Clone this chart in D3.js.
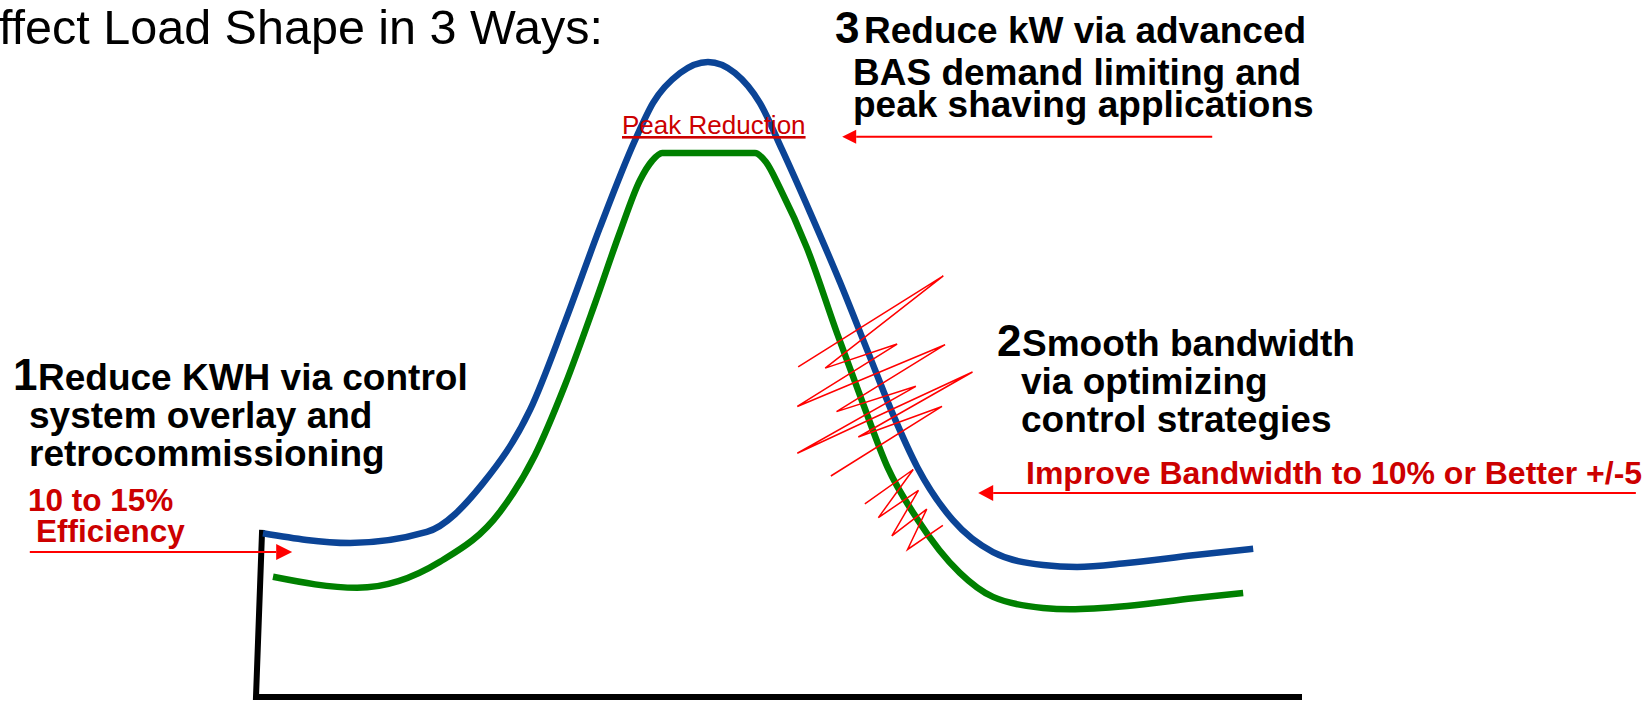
<!DOCTYPE html>
<html>
<head>
<meta charset="utf-8">
<script src="https://cdn.jsdelivr.net/npm/d3@7"></script>
<style>
  body { margin: 0; background: #fff; overflow: hidden; }
  text { font-family: "Liberation Sans", Arial, sans-serif; }
</style>
</head>
<body>
<div id="chart"></div>
<script>
// load profile: hour of day vs load (% of full scale)
var baseHours = [0.16, 2.16, 3.92, 5.21, 6.29, 7.09, 7.89, 8.70, 9.11, 9.73, 10.37, 10.99, 11.56, 12.07, 12.71, 13.40, 14.04, 14.62, 15.17, 15.99, 16.91, 18.06, 18.84, 19.99, 21.50, 22.88];
var baseLoad = [25.2, 23.7, 25.4, 32.9, 44.2, 57.7, 72.2, 85.7, 91.4, 96.0, 97.7, 96.0, 91.4, 84.2, 74.6, 63.8, 53.1, 43.4, 35.4, 27.2, 22.3, 20.3, 20.0, 20.6, 21.8, 22.8];

var managedHours = [0.39, 2.32, 4.22, 5.60, 6.40, 7.09, 7.78, 8.35, 8.81, 9.09, 9.32, 11.45, 11.70, 12.02, 12.64, 13.33, 13.93, 14.50, 15.17, 16.15, 16.91, 18.06, 18.68, 19.99, 21.50, 22.65];
var managedLoad = [18.5, 16.8, 20.8, 28.5, 37.2, 48.0, 60.6, 71.5, 79.5, 82.5, 83.7, 83.7, 82.3, 78.3, 69.1, 56.0, 45.1, 35.2, 27.4, 19.1, 15.4, 13.7, 13.5, 14.0, 15.2, 16.0];

// bandwidth scribbles
var swingHoursA = [12.44, 15.77, 13.06, 14.71, 12.42, 15.81, 13.32, 15.14, 12.42, 16.44, 13.82, 15.74, 13.19];
var swingLoadA = [50.8, 64.8, 50.6, 54.3, 44.7, 54.2, 43.9, 47.8, 37.5, 50.0, 40.0, 44.7, 34.0];
var swingHoursB = [13.97, 15.08, 14.28, 15.20, 14.59, 15.39, 14.95, 15.76];
var swingLoadB = [29.7, 35.0, 27.6, 31.8, 24.8, 28.9, 22.7, 26.4];

// axis frame
var axisHours = [0.14, 0, 24];
var axisLoad = [25.7, 0, 0];

// arrows: [fromHour, toHour, load]
var arrowEfficiency = [-5.19, 0.83, 22.3];
var arrowPeak = [21.94, 13.45, 86.2];
var arrowBand = [31.66, 16.57, 31.4];

var width = 1650, height = 702;

var svg = d3.select("#chart")
    .append("svg")
    .attr("width", width)
    .attr("height", height);

var x = d3.scaleLinear().domain([0, 24]).range([256, 1302]);
var y = d3.scaleLinear().domain([0, 100]).range([697, 47]);

function series(hs, ls) {
    return hs.map(function (h, i) { return [h, ls[i]]; });
}

var smooth = d3.line()
    .x(function (d) { return x(d[0]); })
    .y(function (d) { return y(d[1]); })
    .curve(d3.curveMonotoneX);
var straight = d3.line()
    .x(function (d) { return x(d[0]); })
    .y(function (d) { return y(d[1]); });

// axis
svg.append("path")
    .attr("d", straight(series(axisHours, axisLoad)))
    .attr("fill", "none")
    .attr("stroke", "#000")
    .attr("stroke-width", 6)
    .attr("stroke-linejoin", "miter");

svg.append("path")
    .attr("d", smooth(series(baseHours, baseLoad)))
    .attr("fill", "none")
    .attr("stroke", "#0b4496")
    .attr("stroke-width", 6.5);

svg.append("path")
    .attr("d", smooth(series(managedHours, managedLoad)))
    .attr("fill", "none")
    .attr("stroke", "#008000")
    .attr("stroke-width", 6.5);

[series(swingHoursA, swingLoadA), series(swingHoursB, swingLoadB)].forEach(function (pts) {
    svg.append("path")
        .attr("d", straight(pts))
        .attr("fill", "none")
        .attr("stroke", "#ff0000")
        .attr("stroke-width", 1.5)
        .attr("stroke-linejoin", "miter");
});

function arrow(a, len, half) {
    var x0 = x(a[0]), x1 = x(a[1]), yy = y(a[2]);
    var dir = x1 > x0 ? 1 : -1;
    svg.append("line")
        .attr("x1", x0).attr("y1", yy)
        .attr("x2", x1 - dir * len).attr("y2", yy)
        .attr("stroke", "#ff0000")
        .attr("stroke-width", 2);
    svg.append("path")
        .attr("d", "M" + x1 + "," + yy + "L" + (x1 - dir * len) + "," + (yy - half) + "L" + (x1 - dir * len) + "," + (yy + half) + "Z")
        .attr("fill", "#ff0000");
}
arrow(arrowEfficiency, 16, 8);
arrow(arrowPeak, 14, 7);
arrow(arrowBand, 15, 8);

// texts
svg.append("text")
    .attr("x", -1).attr("y", 44)
    .attr("font-size", 48.5)
    .attr("fill", "#000")
    .text("ffect Load Shape in 3 Ways:");

function block(numX, lines, big) {
    var t = svg.append("text")
        .attr("font-weight", "bold")
        .attr("font-size", 37)
        .attr("fill", "#000");
    t.append("tspan").attr("x", numX).attr("y", lines[0][1]).attr("font-size", 44).text(big);
    lines.forEach(function (l) {
        t.append("tspan").attr("x", l[2]).attr("y", l[1]).text(l[0]);
    });
}
block(13, [["Reduce KWH via control", 390, 38], ["system overlay and", 428, 29], ["retrocommissioning", 466, 29]], "1");
block(835, [["Reduce kW via advanced", 43, 864], ["BAS demand limiting and", 85, 853], ["peak shaving applications", 117, 853]], "3");
block(997, [["Smooth bandwidth", 356, 1022], ["via optimizing", 394, 1021], ["control strategies", 432, 1021]], "2");

svg.append("text")
    .attr("x", 1026).attr("y", 484)
    .attr("font-weight", "bold").attr("font-size", 32)
    .attr("fill", "#cc0000")
    .text("Improve Bandwidth to 10% or Better +/-5");
svg.append("text")
    .attr("x", 28).attr("y", 511)
    .attr("font-weight", "bold").attr("font-size", 31.5)
    .attr("fill", "#cc0000")
    .text("10 to 15%");
svg.append("text")
    .attr("x", 36).attr("y", 542)
    .attr("font-weight", "bold").attr("font-size", 31.5)
    .attr("fill", "#cc0000")
    .text("Efficiency");
svg.append("text")
    .attr("x", 622).attr("y", 134)
    .attr("font-size", 26)
    .attr("fill", "#cc0000")
    .style("text-decoration", "underline")
    .text("Peak Reduction");
</script>
</body>
</html>
